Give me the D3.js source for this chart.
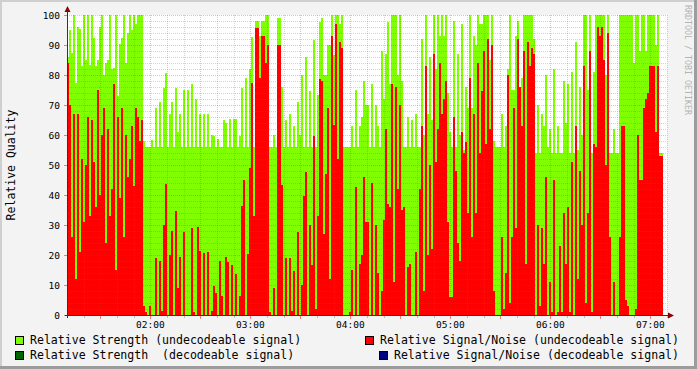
<!DOCTYPE html>
<html>
<head>
<meta charset="utf-8">
<script src="https://cdn.jsdelivr.net/npm/d3@7"></script>
<style>
  body { margin: 0; background: #f3f3f3; }
  text { font-family: "DejaVu Sans Mono", monospace; }
</style>
</head>
<body>
<script>
var width = 697;
var height = 369;

// one column every 72 seconds starting at 01:10
var startTime = new Date(2020, 0, 1, 1, 10, 0);
var endTime = new Date(2020, 0, 1, 7, 10, 0);
var stepSeconds = 72;

// Relative Strength (undecodeable signal)
var strength = [
  86, 95, 87.5, 100, 77.5, 96, 95.5, 83, 100, 85, 100, 83.5, 100, 92.5, 83, 85, 96, 100, 80, 84,
  85, 100, 82, 82.5, 100, 73, 90.5, 92.5, 100, 84, 94, 100, 95, 100, 97, 100, 100, 100,
  58, 56, 56, 56, 58.5, 56, 69, 56, 71, 56, 75.6,
  80.7, 56, 67, 71, 56, 75.7, 61, 67, 56, 75, 56, 75, 56, 77, 56, 72, 56, 67, 56, 67,
  56, 67, 56, 60, 59.7, 56, 58.8, 56, 56, 65, 64, 56, 65.5, 56, 65.5, 65.5, 56, 59.7, 75.7, 56,
  79, 56, 82, 92.7, 56, 98, 98, 93, 98, 98,
  100, 100, 56, 56, 60, 56, 99, 99, 76, 56, 65, 56, 67, 56, 63, 56, 71, 60, 80, 56,
  86, 56, 74.7, 56, 91.7, 56, 73.4, 97.7, 99, 80, 80, 90, 90, 100, 86.6, 100, 100, 97, 100, 56,
  56, 56, 56, 63, 56, 75, 56, 63, 66, 78,
  70, 70, 56, 77, 56, 70, 63, 56, 88, 72, 87, 97.7, 77, 100, 100, 100, 80, 100, 78, 56,
  56, 66, 56, 65, 56, 67, 56, 56, 92, 60, 100, 67, 86, 65, 100, 82, 100, 93, 100, 93,
  100, 74, 61, 56, 98, 56, 87, 60, 97, 55,
  76, 69, 100, 69, 93, 90, 100, 97, 97, 100, 100, 100, 85, 100, 58, 56, 56, 56, 67, 56,
  63, 82, 100, 75, 75, 93, 98, 75, 79, 100, 100, 100, 100, 100, 92, 54, 70, 54, 67, 63,
  80, 56, 62, 54, 82, 54, 63, 54, 54, 78,
  64, 77, 54, 81, 54, 91, 55, 76, 60, 100, 100, 75, 100, 54, 81, 100, 100, 100, 100, 100,
  80, 100, 54, 54, 62, 54, 54, 100, 100, 100, 100, 100, 100, 100, 84, 100, 100, 88, 100, 100,
  88, 100, 100, 100, 100, 90, 100, 54, 54
];

// Relative Signal/Noise (undecodeable signal)
var snr = [
  84, 70, 26, 67, 12, 67, 21, 52, 31, 50, 66, 33, 65, 51, 36, 75, 40, 60, 69, 24,
  62, 33, 42, 77, 15, 66, 39, 69, 26, 60, 46, 52, 63, 43, 69, 66, 58, 65,
  3, 1, 0, 3, 0, 0, 19, 0, 18, 1.5, 30,
  43.8, 0, 20, 28, 0, 34.6, 9, 19.3, 0, 27.7, 0, 0, 0, 29, 1, 0, 29.3, 21.3, 0, 20.7,
  0, 21, 0, 1.5, 9.7, 7.4, 0, 18, 6.5, 0, 19.3, 17.7, 0, 16.6, 0, 13.8, 0, 6.5, 36.5, 45,
  0, 20.4, 49, 77.4, 33, 95.7, 95.7, 79, 93, 93,
  84, 90, 1, 0, 9, 0, 90, 90, 43.5, 0, 19, 0, 19, 1.5, 14.6, 0, 27.7, 0, 10, 39.7,
  47.7, 0, 30, 16.6, 59.7, 2, 33, 78.8, 78, 27, 47, 69, 12, 93, 63.5, 97, 52, 91, 89, 0,
  0, 0, 1, 15, 0, 42.7, 0, 17, 20, 46,
  31, 31, 0, 44, 0, 30, 14, 0, 8, 31.6, 62, 37, 36, 77, 11, 76, 42, 70, 35, 36,
  0, 16, 17, 0, 0, 21, 0, 42, 63, 8, 83, 20, 50, 22, 87, 51, 62, 84, 67, 72,
  78, 31, 6, 6, 66, 48, 24, 18, 61, 54,
  57.7, 34, 79, 26, 67, 34, 84, 54, 74.7, 88, 57, 92, 62, 90, 8, 0, 0, 0, 26, 2,
  14, 80, 4, 26, 69, 29, 92, 76, 63, 88, 17, 91, 83, 89, 87, 0, 30, 3, 29, 17,
  46, 0, 11, 1, 45, 0, 1, 23, 1, 34,
  17, 36, 1, 51, 0, 63, 12, 48, 30, 83, 4, 34, 88, 1, 57, 56, 96, 93, 96, 85,
  50, 94, 26, 0, 11, 0, 0, 26, 63, 63, 5, 3, 0, 0, 0, 2, 60, 45, 45, 69,
  72, 74, 83, 83, 83, 61, 83, 53, 53
];

// decodeable series have no data in this period
var strengthDecodeable = [];
var snrDecodeable = [];

var yTicks = [0, 10, 20, 30, 40, 50, 60, 70, 80, 90, 100];
var hourLabels = ['02:00', '03:00', '04:00', '05:00', '06:00', '07:00'];

var legendLeft = ['Relative Strength (undecodeable signal)', 'Relative Strength  (decodeable signal)'];
var legendRight = ['Relative Signal/Noise (undecodeable signal)', 'Relative Signal/Noise (decodeable signal)'];
var legendColorsLeft = ['#80ff00', '#006400'];
var legendColorsRight = ['#ff0000', '#000080'];

var plotLeft = 67, plotRight = 667, plotTop = 15, plotBottom = 315;

var canvas = d3.select('body').append('svg')
  .attr('width', width)
  .attr('height', height);

// background with rrdtool style shading
canvas.append('rect').attr('width', width).attr('height', height).attr('fill', '#f3f3f3');
canvas.append('rect').attr('x', 0).attr('y', 0).attr('width', width).attr('height', 2).attr('fill', '#cfcfcf');
canvas.append('rect').attr('x', 0).attr('y', 0).attr('width', 2).attr('height', height).attr('fill', '#cfcfcf');
canvas.append('rect').attr('x', 0).attr('y', height - 3).attr('width', width).attr('height', 3).attr('fill', '#9c9c9c');
canvas.append('rect').attr('x', width - 3).attr('y', 0).attr('width', 3).attr('height', height).attr('fill', '#9c9c9c');

var x = d3.scaleTime().domain([startTime, endTime]).range([plotLeft, plotRight]);
var y = d3.scaleLinear().domain([0, 100]).range([plotBottom, plotTop]);

canvas.append('rect')
  .attr('x', plotLeft).attr('y', plotTop)
  .attr('width', plotRight - plotLeft).attr('height', plotBottom - plotTop)
  .attr('fill', '#ffffff');

var timeAt = function(i) {
  return new Date(startTime.getTime() + i * stepSeconds * 1000);
};

var drawSeries = function(values, color) {
  canvas.append('g').attr('shape-rendering', 'crispEdges')
    .selectAll('rect').data(values).enter().append('rect')
    .attr('x', function(d, i){ return x(timeAt(i)); })
    .attr('width', function(d, i){ return x(timeAt(i + 1)) - x(timeAt(i)); })
    .attr('y', function(d){ return y(d); })
    .attr('height', function(d){ return y(0) - y(d); })
    .attr('fill', color);
};

drawSeries(strength, '#80ff00');
drawSeries(snr, '#ff0000');
drawSeries(strengthDecodeable, '#006400');
drawSeries(snrDecodeable, '#000080');

// grid on top of the graph
var grid = canvas.append('g').attr('shape-rendering', 'crispEdges');
var minorY = d3.range(0, 101, 2).filter(function(v){ return v % 10 !== 0; });
grid.selectAll('.hmin').data(minorY).enter().append('line')
  .attr('x1', plotLeft).attr('x2', plotRight)
  .attr('y1', function(d){ return y(d) + 0.5; }).attr('y2', function(d){ return y(d) + 0.5; })
  .attr('stroke', 'rgba(110,110,110,0.3)').attr('stroke-dasharray', '1,1');
grid.selectAll('.hmaj').data(yTicks.slice(1)).enter().append('line')
  .attr('x1', plotLeft).attr('x2', plotRight)
  .attr('y1', function(d){ return y(d) + 0.5; }).attr('y2', function(d){ return y(d) + 0.5; })
  .attr('stroke', 'rgba(200,40,40,0.3)').attr('stroke-dasharray', '1,1');

var minorX = x.ticks(d3.timeMinute.every(10)).filter(function(t){ return t.getMinutes() % 30 !== 0; });
var majorX = x.ticks(d3.timeMinute.every(30)).filter(function(t){ return x(t) > plotLeft; });
grid.selectAll('.vmin').data(minorX).enter().append('line')
  .attr('x1', function(d){ return Math.round(x(d)) + 0.5; }).attr('x2', function(d){ return Math.round(x(d)) + 0.5; })
  .attr('y1', plotTop).attr('y2', plotBottom)
  .attr('stroke', 'rgba(110,110,110,0.3)').attr('stroke-dasharray', '1,1');
grid.selectAll('.vmaj').data(majorX).enter().append('line')
  .attr('x1', function(d){ return Math.round(x(d)) + 0.5; }).attr('x2', function(d){ return Math.round(x(d)) + 0.5; })
  .attr('y1', plotTop).attr('y2', plotBottom)
  .attr('stroke', 'rgba(200,40,40,0.3)').attr('stroke-dasharray', '1,1');

// axis ticks
grid.selectAll('.xtmin').data(minorX).enter().append('line')
  .attr('x1', function(d){ return Math.round(x(d)) + 0.5; }).attr('x2', function(d){ return Math.round(x(d)) + 0.5; })
  .attr('y1', plotBottom + 1).attr('y2', plotBottom + 3)
  .attr('stroke', '#bbbbbb');
grid.selectAll('.xtmaj').data(majorX).enter().append('line')
  .attr('x1', function(d){ return Math.round(x(d)) + 0.5; }).attr('x2', function(d){ return Math.round(x(d)) + 0.5; })
  .attr('y1', plotBottom + 1).attr('y2', plotBottom + 4)
  .attr('stroke', '#e08080');
grid.selectAll('.ytmaj').data(yTicks).enter().append('line')
  .attr('x1', plotLeft - 3).attr('x2', plotLeft)
  .attr('y1', function(d){ return y(d) + 0.5; }).attr('y2', function(d){ return y(d) + 0.5; })
  .attr('stroke', '#e08080');

// axes with arrows
canvas.append('line')
  .attr('x1', plotLeft - 2).attr('x2', plotRight + 2)
  .attr('y1', plotBottom + 0.5).attr('y2', plotBottom + 0.5)
  .attr('stroke', '#333333').attr('shape-rendering', 'crispEdges');
canvas.append('line')
  .attr('x1', plotLeft + 0.5).attr('x2', plotLeft + 0.5)
  .attr('y1', plotBottom + 3).attr('y2', plotTop - 6)
  .attr('stroke', '#333333').attr('shape-rendering', 'crispEdges');
canvas.append('path')
  .attr('d', 'M' + (plotRight + 1) + ',' + (plotBottom - 2.5) + 'L' + (plotRight + 7) + ',' + (plotBottom + 0.5) + 'L' + (plotRight + 1) + ',' + (plotBottom + 3.5) + 'Z')
  .attr('fill', '#8b0000');
canvas.append('path')
  .attr('d', 'M' + (plotLeft - 2.5) + ',' + (plotTop - 3) + 'L' + (plotLeft + 0.5) + ',' + (plotTop - 9) + 'L' + (plotLeft + 3.5) + ',' + (plotTop - 3) + 'Z')
  .attr('fill', '#8b0000');

// tick labels
canvas.selectAll('.ylab').data(yTicks).enter().append('text')
  .attr('x', plotLeft - 7)
  .attr('y', function(d){ return y(d) + 3.5; })
  .attr('text-anchor', 'end')
  .attr('font-size', '9.5px')
  .attr('fill', '#000')
  .text(function(d){ return d; });

var hourTimes = hourLabels.map(function(h){
  return new Date(2020, 0, 1, +h.slice(0, 2), +h.slice(3), 0);
});
canvas.selectAll('.xlab').data(hourLabels).enter().append('text')
  .attr('x', function(d, i){ return x(hourTimes[i]); })
  .attr('y', 327.5)
  .attr('text-anchor', 'middle')
  .attr('font-size', '9.5px')
  .attr('fill', '#000')
  .text(function(d){ return d; });

// y axis title
canvas.append('text')
  .attr('transform', 'translate(15,165) rotate(-90)')
  .attr('text-anchor', 'middle')
  .attr('font-size', '11.5px')
  .attr('fill', '#000')
  .text('Relative Quality');

// watermark
canvas.append('text')
  .attr('transform', 'translate(685,5) rotate(90)')
  .attr('font-size', '8.3px')
  .attr('fill', '#b4b4b4')
  .text('RRDTOOL / TOBI OETIKER');

// legend
var legendRows = [336, 351];
legendLeft.forEach(function(label, i) {
  canvas.append('rect')
    .attr('x', 15.5).attr('y', legendRows[i] + 0.5).attr('width', 8).attr('height', 8)
    .attr('fill', legendColorsLeft[i]).attr('stroke', '#000');
  canvas.append('text')
    .attr('x', 30).attr('y', legendRows[i] + 8)
    .attr('font-size', '11.55px').attr('fill', '#000')
    .style('white-space', 'pre')
    .text(label);
});
var rightSquareX = [365.5, 379.5];
legendRight.forEach(function(label, i) {
  canvas.append('rect')
    .attr('x', rightSquareX[i]).attr('y', legendRows[i] + 0.5).attr('width', 8).attr('height', 8)
    .attr('fill', legendColorsRight[i]).attr('stroke', '#000');
  canvas.append('text')
    .attr('x', 679).attr('y', legendRows[i] + 8)
    .attr('text-anchor', 'end')
    .attr('font-size', '11.55px').attr('fill', '#000')
    .text(label);
});
</script>
</body>
</html>
